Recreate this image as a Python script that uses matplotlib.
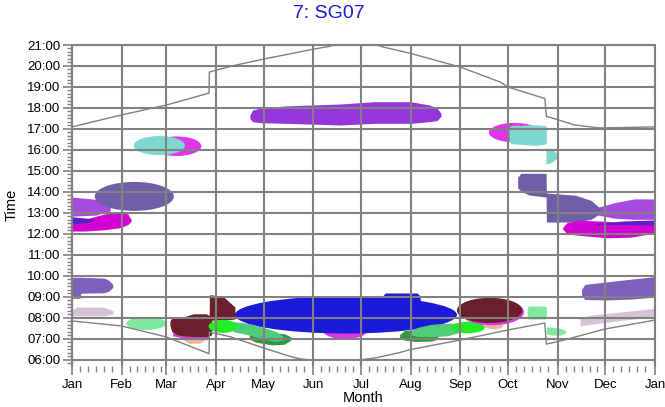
import matplotlib
matplotlib.use('Agg')
import matplotlib.pyplot as plt
import numpy as np
from matplotlib.patches import Ellipse

plt.rcParams['font.family'] = ['Liberation Sans', 'DejaVu Sans']

##Axes data
month_names = ['Jan', 'Feb', 'Mar', 'Apr', 'May', 'Jun', 'Jul', 'Aug', 'Sep', 'Oct', 'Nov', 'Dec', 'Jan']
month_days = [0, 31, 59, 90, 120, 151, 181, 212, 243, 273, 304, 334, 365]
hours = list(range(6, 22))
hour_labels = ['%02d:00' % h for h in hours]

##Sunrise / sunset (day of year, hour)
sunrise_days = [0, 31, 59, 85.8, 86, 99, 120, 130, 137, 143, 150, 180, 190, 205, 212, 243, 273, 296, 297, 304, 334, 365]
sunrise = [7.86, 7.62, 7.1, 6.3, 7.33, 7.11, 6.57, 6.33, 6.16, 6.05, 6.0, 6.0, 6.1, 6.35, 6.5, 6.95, 7.43, 7.76, 6.76, 6.87, 7.48, 7.9]
sunset_days = [0, 31, 59, 85.8, 86, 90, 103, 120, 151, 160, 168, 190, 194, 212, 243, 268, 273, 296, 297, 304, 314, 330, 365]
sunset = [17.1, 17.67, 18.14, 18.71, 19.71, 19.8, 20.05, 20.33, 20.8, 20.92, 21.05, 21.05, 20.92, 20.6, 19.95, 19.24, 19.0, 18.45, 17.6, 17.45, 17.2, 17.05, 17.1]

##Shading bands: days, lower time, upper time
lav_jan_days = [0, 3, 20, 25.7]
lav_jan_lo = [8.1, 8.1, 8.1, 8.2]
lav_jan_hi = [8.4, 8.52, 8.52, 8.35]
lav_dec_days = [318, 325, 345, 365]
lav_dec_lo = [7.62, 7.7, 7.9, 8.06]
lav_dec_hi = [7.98, 8.14, 8.3, 8.46]

mslate_jan_days = [0, 5, 5.5, 20, 23, 25.5]
mslate_jan_lo = [8.94, 8.94, 9.18, 9.2, 9.28, 9.45]
mslate_jan_hi = [9.94, 9.94, 9.94, 9.9, 9.8, 9.6]
mslate_dec_days = [319, 321, 335, 350, 365]
mslate_dec_lo = [9.1, 8.88, 8.86, 8.9, 9.0]
mslate_dec_hi = [9.35, 9.6, 9.72, 9.85, 9.97]

lgreen_oct_days = [285, 286, 296, 297]
lgreen_oct_lo = [8.02, 7.95, 7.95, 8.02]
lgreen_oct_hi = [8.5, 8.57, 8.57, 8.5]
lgreen_nov_days = [297, 300, 306, 309]
lgreen_nov_lo = [7.25, 7.19, 7.19, 7.3]
lgreen_nov_hi = [7.57, 7.57, 7.5, 7.4]

peach_mar_days = [70, 73, 80, 83]
peach_mar_lo = [6.95, 6.8, 6.8, 6.95]
peach_mar_hi = [7.1, 7.1, 7.1, 7.1]
fringe_mar_days = [63, 70, 80, 86]
fringe_mar_lo = [7.15, 7.05, 7.02, 7.08]
fringe_mar_hi = [7.3, 7.3, 7.3, 7.3]

maroon_days = [61.3, 62.5, 66, 70, 76, 84, 85.9, 86, 87.4, 87.5, 95, 102]
maroon_lo = [7.65, 7.35, 7.2, 7.15, 7.12, 7.12, 7.15, 7.15, 7.2, 7.9, 7.9, 7.95]
maroon_hi = [7.85, 8.0, 8.05, 8.05, 8.2, 8.2, 8.12, 9.1, 9.1, 9.1, 9.0, 8.52]

dgreen_apr_days = [111, 115, 125, 133, 137]
dgreen_apr_lo = [7.0, 6.85, 6.72, 6.75, 6.95]
dgreen_apr_hi = [7.2, 7.3, 7.3, 7.25, 7.1]
mgreen_apr_days = [99, 101, 110, 120, 128, 132]
mgreen_apr_lo = [7.5, 7.35, 7.2, 7.0, 6.88, 6.95]
mgreen_apr_hi = [7.7, 7.83, 7.75, 7.55, 7.35, 7.15]

blue_bump_days = [194, 196, 216, 218]
blue_bump_lo = [8.5, 8.5, 8.5, 8.5]
blue_bump_hi = [9.0, 9.19, 9.19, 9.05]

dgreen_aug_days = [205, 208, 215, 225, 229]
dgreen_aug_lo = [7.1, 6.95, 6.88, 6.9, 7.0]
dgreen_aug_hi = [7.2, 7.4, 7.43, 7.4, 7.25]
mgreen_aug_days = [212, 216, 225, 235, 242]
mgreen_aug_lo = [7.2, 7.12, 7.11, 7.15, 7.3]
mgreen_aug_hi = [7.35, 7.55, 7.7, 7.75, 7.75]

purple_days = [111.4, 113, 118, 134, 168, 189, 212, 224, 228.5, 231]
purple_lo = [17.5, 17.35, 17.3, 17.27, 17.19, 17.27, 17.27, 17.35, 17.4, 17.6]
purple_hi = [17.65, 17.9, 18.0, 18.1, 18.19, 18.3, 18.3, 18.14, 18.0, 17.75]

cyan_oct_days = [273.6, 275, 290, 296, 297]
cyan_oct_lo = [16.45, 16.3, 16.22, 16.28, 16.35]
cyan_oct_hi = [17.1, 17.17, 17.2, 17.17, 17.1]
cyan_nov_days = [296.7, 300, 303.6]
cyan_nov_lo = [15.33, 15.4, 15.6]
cyan_nov_hi = [16.1, 16.05, 15.85]

violet_jan_days = [0, 15, 24]
violet_jan_lo = [12.85, 12.9, 13.1]
violet_jan_hi = [13.76, 13.65, 13.45]
magenta_jan_days = [0, 8, 20, 30, 35, 37]
magenta_jan_lo = [12.14, 12.14, 12.2, 12.3, 12.45, 12.6]
magenta_jan_hi = [12.6, 12.7, 12.95, 13.05, 12.95, 12.7]
indigo_jan_days = [0, 10, 14]
indigo_jan_lo = [12.48, 12.55, 12.66]
indigo_jan_hi = [12.82, 12.75, 12.7]

violet_dec_days = [326, 340, 352, 365]
violet_dec_lo = [12.95, 12.75, 12.7, 12.7]
violet_dec_hi = [13.2, 13.5, 13.67, 13.67]
slate_nov_days = [279, 281, 286, 296.8, 297, 315, 325, 331]
slate_nov_lo = [14.2, 14.05, 13.86, 13.76, 12.57, 12.57, 12.7, 13.0]
slate_nov_hi = [14.7, 14.89, 14.89, 14.89, 13.95, 13.85, 13.6, 13.2]
magenta_dec_days = [307, 310, 320, 335, 350, 365]
magenta_dec_lo = [12.25, 12.0, 11.92, 11.82, 11.85, 12.05]
magenta_dec_hi = [12.3, 12.55, 12.65, 12.6, 12.5, 12.45]
indigo_dec_days = [328, 345, 365]
indigo_dec_lo = [12.45, 12.45, 12.43]
indigo_dec_hi = [12.5, 12.62, 12.67]

##Elliptic shading blobs: centre day, centre time, width (days), height (hours)
lgreen_feb = (46.5, 7.74, 25, 0.62)
bgreen_apr = (94.5, 7.6, 18, 0.62)
magenta_jun = (171, 7.42, 28, 0.85)
blue_sum = (171.5, 8.15, 139, 1.78)
bgreen_sep = (248, 7.55, 21, 0.55)
peach_sep = (264, 7.62, 12, 0.3)
magenta_sep = (263, 8.28, 40, 1.25)
maroon_sep = (261.5, 8.36, 41, 1.2)
magenta_mar = (65.5, 16.18, 31, 0.93)
cyan_mar = (54.7, 16.21, 32, 0.91)
magenta_oct = (277, 16.83, 32, 0.92)
slate_feb = (39, 13.79, 49.5, 1.38)

##Colours
c_lav = '#d6c4d4'
c_mslate = '#7c60bb'
c_lgreen = '#80e8a0'
c_peach = '#e8b898'
c_magenta = '#e035ea'
c_maroon = '#6b1e2c'
c_dgreen = '#2f9a3a'
c_mgreen = '#50cc78'
c_bgreen = '#22ee22'
c_blue = '#1a1ad8'
c_purple = '#9535dc'
c_cyan = '#7fd8cf'
c_violet = '#a84ae0'
c_deepmag = '#d400d4'
c_indigo = '#5a20c8'
c_slate = '#6e5ea8'

## draw order
layers = [
    ('b', lav_jan_days, lav_jan_lo, lav_jan_hi, c_lav),
    ('b', lav_dec_days, lav_dec_lo, lav_dec_hi, c_lav),
    ('b', mslate_jan_days, mslate_jan_lo, mslate_jan_hi, c_mslate),
    ('b', mslate_dec_days, mslate_dec_lo, mslate_dec_hi, c_mslate),
    ('e', lgreen_feb, c_lgreen),
    ('b', lgreen_oct_days, lgreen_oct_lo, lgreen_oct_hi, c_lgreen),
    ('b', lgreen_nov_days, lgreen_nov_lo, lgreen_nov_hi, c_lgreen),
    ('b', peach_mar_days, peach_mar_lo, peach_mar_hi, c_peach),
    ('b', fringe_mar_days, fringe_mar_lo, fringe_mar_hi, c_magenta),
    ('b', maroon_days, maroon_lo, maroon_hi, c_maroon),
    ('b', dgreen_apr_days, dgreen_apr_lo, dgreen_apr_hi, c_dgreen),
    ('b', mgreen_apr_days, mgreen_apr_lo, mgreen_apr_hi, c_mgreen),
    ('e', bgreen_apr, c_bgreen),
    ('e', magenta_jun, c_magenta),
    ('b', blue_bump_days, blue_bump_lo, blue_bump_hi, c_blue),
    ('e', blue_sum, c_blue),
    ('b', dgreen_aug_days, dgreen_aug_lo, dgreen_aug_hi, c_dgreen),
    ('b', mgreen_aug_days, mgreen_aug_lo, mgreen_aug_hi, c_mgreen),
    ('e', bgreen_sep, c_bgreen),
    ('e', peach_sep, c_peach),
    ('e', magenta_sep, c_magenta),
    ('e', maroon_sep, c_maroon),
    ('b', purple_days, purple_lo, purple_hi, c_purple),
    ('e', magenta_mar, c_magenta),
    ('e', cyan_mar, c_cyan),
    ('e', magenta_oct, c_magenta),
    ('b', cyan_oct_days, cyan_oct_lo, cyan_oct_hi, c_cyan),
    ('b', cyan_nov_days, cyan_nov_lo, cyan_nov_hi, c_cyan),
    ('b', violet_jan_days, violet_jan_lo, violet_jan_hi, c_violet),
    ('b', magenta_jan_days, magenta_jan_lo, magenta_jan_hi, c_deepmag),
    ('b', indigo_jan_days, indigo_jan_lo, indigo_jan_hi, c_indigo),
    ('e', slate_feb, c_slate),
    ('b', violet_dec_days, violet_dec_lo, violet_dec_hi, c_violet),
    ('b', slate_nov_days, slate_nov_lo, slate_nov_hi, c_slate),
    ('b', magenta_dec_days, magenta_dec_lo, magenta_dec_hi, c_deepmag),
    ('b', indigo_dec_days, indigo_dec_lo, indigo_dec_hi, c_indigo),
]

fig = plt.figure(figsize=(6.65, 4.07), dpi=100)
ax = fig.add_axes([72 / 665, 1 - 366 / 407, 583 / 665, 321 / 407])

z = 1.0
for layer in layers:
    if layer[0] == 'b':
        ax.fill_between(layer[1], layer[2], layer[3], color=layer[4], lw=0, zorder=z)
    else:
        cx, cy, w, h = layer[1]
        ax.add_patch(Ellipse((cx, cy), w, h, facecolor=layer[2], lw=0, zorder=z))
    z += 0.01

##Sunrise and sunset lines
ax.plot(sunrise_days, sunrise, color='#808080', lw=1.0, zorder=3)
ax.plot(sunset_days, sunset, color='#808080', lw=1.0, zorder=3)

ax.set_xlim(0, 365)
ax.set_ylim(5.714, 21)

grey = '#808080'
ax.set_xticks(month_days)
ax.set_xticklabels(month_names)
minor_x = [d + k for d in month_days[:-1] for k in (5, 10, 15, 20, 25)]
ax.set_xticks(minor_x, minor=True)
ax.set_yticks(hours)
ax.set_yticklabels(hour_labels)
ax.set_yticks([h + k / 6 for h in range(5, 21) for k in range(1, 6) if h + k / 6 > 5.714], minor=True)

ax.set_axisbelow(False)
ax.grid(True, which='major', color=grey, lw=1.5)
for s in ['left', 'right', 'top']:
    ax.spines[s].set_color(grey)
    ax.spines[s].set_linewidth(1.5)
ax.spines['bottom'].set_visible(False)

ax.tick_params(axis='both', which='major', color=grey, width=1.2, labelsize=9.5)
ax.tick_params(axis='x', which='major', length=6.5, pad=3)
ax.tick_params(axis='x', which='minor', length=4.3, color=grey, width=1.0)
ax.tick_params(axis='y', which='major', length=6.5, pad=2)
ax.tick_params(axis='y', which='minor', length=3.6, color=grey, width=1.0)

fig.text(0.495, 0.966, '7: SG07', color='#1a1ae0', fontsize=14, ha='center', va='center')
fig.text(363 / 665, 1 - 398 / 407, 'Month', fontsize=10.5, ha='center', va='center')
fig.text(12 / 665, 1 - 205 / 407, 'Time', fontsize=10.5, ha='center', va='center', rotation=90)

plt.savefig('out.png', dpi=100)
